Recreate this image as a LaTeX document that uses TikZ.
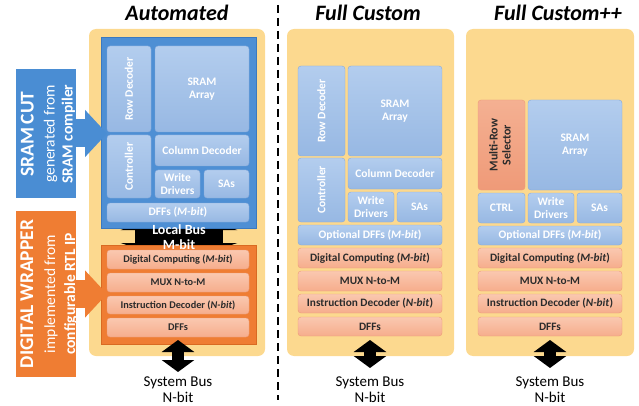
\documentclass[tikz,border=0pt]{standalone}
\usepackage{fontspec}
\setmainfont{Carlito}
\usetikzlibrary{arrows.meta}

\definecolor{panelyel}{HTML}{FCD98F}
\definecolor{macroblue}{HTML}{4E8FD4}
\definecolor{macroedge}{HTML}{3B79BF}
\definecolor{celltop}{HTML}{B3CDEE}
\definecolor{cellbot}{HTML}{97B8E3}
\definecolor{celledge}{HTML}{86AADB}
\definecolor{wrapor}{HTML}{EF7D33}
\definecolor{wrapedge}{HTML}{D96A22}
\definecolor{saltop}{HTML}{FAC8B0}
\definecolor{salbot}{HTML}{F6AD8C}
\definecolor{saledge}{HTML}{EE9C78}
\definecolor{seltop}{HTML}{F4B092}
\definecolor{selbot}{HTML}{EF9A78}
\definecolor{cutblue}{HTML}{4A8DD3}
\definecolor{txtgray}{HTML}{2B2B2B}

\def\blk[#1](#2)(#3,#4)(#5,#6)#7{\node[#1, minimum width={(#5-#3)*1pt}, minimum height={(#6-#4)*1pt}] (#2) at ({(#3+#5)/2},{(#4+#6)/2}) {#7};}

\tikzset{
	panel/.style={fill=panelyel, rounded corners=7pt, inner sep=0pt, outer sep=0pt},
	macro/.style={fill=macroblue, draw=macroedge, inner sep=0pt, outer sep=0pt},
	wrap/.style={fill=wrapor, draw=wrapedge, inner sep=0pt, outer sep=0pt},
	cell/.style={top color=celltop, bottom color=cellbot, draw=celledge, rounded corners=3pt, text=white, font=\fontsize{11.5}{12.5}\selectfont\bfseries, align=center, inner sep=0pt, outer sep=0pt},
	logic/.style={cell, top color=saltop, bottom color=salbot, draw=saledge, text=txtgray, font=\fontsize{10.3}{11}\selectfont\bfseries},
	wide/.style={font=\fontsize{11.3}{12}\selectfont\bfseries},
	selector/.style={cell, top color=seltop, bottom color=selbot, draw=saledge, text=txtgray, font=\fontsize{12}{13}\selectfont\bfseries},
	title/.style={font=\fontsize{22}{24}\selectfont\bfseries\itshape, inner sep=0pt},
	cutbox/.style={fill=cutblue, inner sep=0pt, outer sep=0pt},
	wrapbox/.style={fill=wrapor, inner sep=0pt, outer sep=0pt},
	sidetxt/.style={rotate=90, text=white, text width=160pt, align=center, inner sep=0pt},
	feed/.style={line width=28pt, -{Triangle[length=22pt,width=46pt]}},
	localbus/.style={line width=88pt, {Triangle[length=20pt,width=116pt]}-{Triangle[length=20pt,width=116pt]}},
	lbus/.style={text=white, font=\fontsize{14}{15}\selectfont\bfseries, align=center, inner sep=0pt},
	sysbus/.style={line width=12pt, {Triangle[length=12pt,width=32pt]}-{Triangle[length=12pt,width=32pt]}},
	buslbl/.style={font=\fontsize{15}{16}\selectfont, align=center, inner sep=1pt},
}

\begin{document}
\begin{tikzpicture}[x=1pt,y=-1pt]
	%%%%% START %%%%%
	\useasboundingbox (0,0) rectangle (639,406);
	
	\draw[line width=1.8pt, dash pattern=on 8pt off 5pt] (278,5) -- (278,400);
	
	%%%%% Automated %%%%%
	\node[title] (tauto) at (177,13) {Automated};
	\blk[panel](panA)(89,29)(265,356){}
	\coordinate (lbtop) at (179,210);
	\coordinate (lbbot) at (179,263);
	\draw[localbus] (lbtop) -- (lbbot);
	
	\blk[macro](macA)(101,37)(256,228){}
	\blk[cell](rowA)(107,46)(151,132){\rotatebox{90}{Row Decoder}}
	\blk[cell](arrA)(155,46)(249,132){SRAM\\Array}
	\blk[cell](ctlA)(107,135)(151,198){\rotatebox{90}{Controller}}
	\blk[cell](colA)(155,135)(249,166){Column Decoder}
	\blk[cell](wdA)(155,170)(200,198){Write\\Drivers}
	\blk[cell](saA)(204,170)(249,198){SAs}
	\blk[cell](mdA)(107,203)(249,222){DFFs (\textit{M-bit})}
	
	\blk[wrap](wrA)(101,245)(256,344){}
	\blk[logic](dcA)(107,250)(249,269){Digital Computing (\textit{M-bit})}
	\blk[logic](muxA)(107,273)(249,292){MUX N-to-M}
	\blk[logic](idA)(107,296)(249,314){Instruction Decoder (\textit{N-bit})}
	\blk[logic](dffA)(107,318)(249,337){DFFs}
	
	\node[lbus] (lbA) at (179,237) {Local Bus\\M-bit};
	\node[buslbl, anchor=north] (sysA) at (178,376) {System Bus\\N-bit};
	\draw[sysbus, shorten <=3pt, shorten >=4pt] (dffA.south) -- (sysA.north);
	
	%%%%% Full Custom %%%%%
	\node[title] (tfull) at (368,13) {Full Custom};
	\blk[panel](panF)(287,29)(454,356){}
	\blk[cell](rowF)(298,66)(345,156){\rotatebox{90}{Row Decoder}}
	\blk[cell](arrF)(348,66)(442,156){SRAM\\Array}
	\blk[cell](ctlF)(298,158)(345,222){\rotatebox{90}{Controller}}
	\blk[cell](colF)(348,158)(442,189){Column Decoder}
	\blk[cell](wdF)(348,192)(394,222){Write\\Drivers}
	\blk[cell](saF)(397,192)(442,222){SAs}
	\blk[cell](odF)(298,225)(442,245){Optional DFFs (\textit{M-bit})}
	\blk[logic, wide](dcF)(298,248)(442,268){Digital Computing (\textit{M-bit})}
	\blk[logic, wide](muxF)(298,271)(442,291){MUX N-to-M}
	\blk[logic, wide](idF)(298,294)(442,313){Instruction Decoder (\textit{N-bit})}
	\blk[logic, wide](dffF)(298,317)(442,336){DFFs}
	
	\node[buslbl, anchor=north] (sysF) at (370,376) {System Bus\\N-bit};
	\draw[sysbus, shorten <=4pt, shorten >=8pt] (dffF.south) -- (sysF.north);
	
	%%%%% Full Custom++ %%%%%
	\node[title] (tplus) at (558,13) {Full Custom++};
	\blk[panel](panP)(466,29)(634,356){}
	\blk[selector](mrsP)(478,100)(525,190){\rotatebox{90}{\begin{tabular}{@{}c@{}}Multi-Row\\Selector\end{tabular}}}
	\blk[cell](arrP)(528,100)(622,190){SRAM\\Array}
	\blk[cell](ctlP)(478,193)(525,223){CTRL}
	\blk[cell](wdP)(528,193)(574,223){Write\\Drivers}
	\blk[cell](saP)(577,193)(622,223){SAs}
	\blk[cell](odP)(478,226)(622,245){Optional DFFs (\textit{M-bit})}
	\blk[logic, wide](dcP)(478,248)(622,268){Digital Computing (\textit{M-bit})}
	\blk[logic, wide](muxP)(478,271)(622,291){MUX N-to-M}
	\blk[logic, wide](idP)(478,294)(622,313){Instruction Decoder (\textit{N-bit})}
	\blk[logic, wide](dffP)(478,317)(622,336){DFFs}
	
	\node[buslbl, anchor=north] (sysP) at (550,376) {System Bus\\N-bit};
	\draw[sysbus, shorten <=4pt, shorten >=8pt] (dffP.south) -- (sysP.north);
	
	%%%%% side labels %%%%%
	\blk[cutbox](cut)(16,69)(76,198){}
	\coordinate (cuttip) at (107,0);
	\draw[feed, cutblue] (cut.east) -- (cut.east -| cuttip);
	\node[sidetxt, text width=125pt] (cuttxt) at (48,134) {{\fontsize{19.5}{20}\selectfont\bfseries SRAM CUT\par}{\fontsize{15.5}{21}\selectfont generated from\par}\fontsize{15.5}{18}\selectfont\bfseries SRAM compiler\par};
	
	\blk[wrapbox](dwr)(16,211)(76,377){}
	\coordinate (dwrtip) at (107,0);
	\draw[feed, wrapor] (dwr.east) -- (dwr.east -| dwrtip);
	\node[sidetxt] (dwrtxt) at (49,294) {{\fontsize{19.5}{20}\selectfont\bfseries DIGITAL WRAPPER\par}{\fontsize{15.5}{22}\selectfont implemented from\par}\fontsize{15.5}{20}\selectfont\bfseries configurable RTL IP\par};
	
	%%%%% END %%%%%
\end{tikzpicture}
\end{document}
